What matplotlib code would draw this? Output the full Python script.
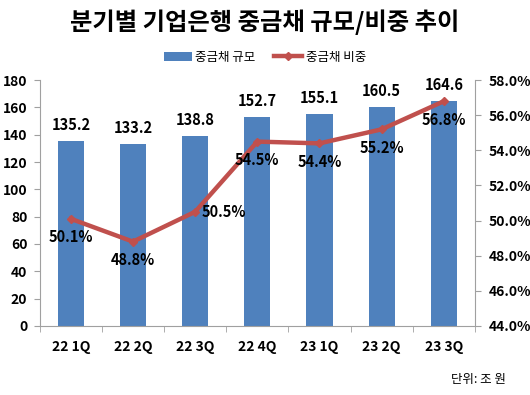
import matplotlib
matplotlib.use("Agg")
import matplotlib.pyplot as plt
from matplotlib.ticker import FuncFormatter

plt.rcParams['font.family'] = ['Noto Sans CJK KR', 'DejaVu Sans']

quarters = ["22 1Q", "22 2Q", "22 3Q", "22 4Q", "23 1Q", "23 2Q", "23 3Q"]
size = [135.2, 133.2, 138.8, 152.7, 155.1, 160.5, 164.6]
ratio = [50.1, 48.8, 50.5, 54.5, 54.4, 55.2, 56.8]

bar_c = "#4F81BD"
line_c = "#C0504D"
fs = 10

fig = plt.figure(figsize=(5.3, 3.95), dpi=100)
ax = fig.add_axes([0.075, 0.175, 0.821, 0.622])
x = list(range(len(quarters)))
ax.bar(x, size, width=0.42, color=bar_c, label="중금채 규모", zorder=2)
ax.set_xlim(-0.5, len(quarters) - 0.5)
ax.set_ylim(0, 180)
ax.set_yticks(range(0, 181, 20))
ax.set_xticks(x)
ax.set_xticklabels(quarters)
ax.set_xticks([i + 0.5 for i in range(-1, len(quarters))], minor=True)
ax.tick_params(axis="x", which="major", length=0, pad=10)
ax.tick_params(axis="x", which="minor", length=4, color="#A0A0A0")
ax.tick_params(axis="y", length=4, color="#A0A0A0", pad=5)
for lab in ax.get_xticklabels() + ax.get_yticklabels():
    lab.set_fontweight("bold")
    lab.set_fontsize(fs)
for s in ["top", "right"]:
    ax.spines[s].set_visible(False)
for s in ["left", "bottom"]:
    ax.spines[s].set_color("#A0A0A0")

for i, v in enumerate(size):
    ax.text(i, v + 6, f"{v:.1f}", ha="center", va="bottom", fontsize=fs + 0.5, fontweight="bold")

ax2 = ax.twinx()
ax2.plot(x, ratio, color=line_c, lw=3.2, marker="D", markersize=4, label="중금채 비중", zorder=3)
ax2.set_ylim(44, 58)
ax2.set_yticks(range(44, 59, 2))
ax2.yaxis.set_major_formatter(FuncFormatter(lambda v, p: f"{v:.1f}%"))
ax2.tick_params(axis="y", length=4, color="#A0A0A0", pad=6)
for lab in ax2.get_yticklabels():
    lab.set_fontweight("bold")
    lab.set_fontsize(fs)
for s in ["top", "left", "bottom"]:
    ax2.spines[s].set_visible(False)
ax2.spines["right"].set_color("#A0A0A0")

for i, v in enumerate(ratio):
    if i == 2:
        ax2.text(i + 0.1, v, f"{v:.1f}%", ha="left", va="center", fontsize=fs + 0.5, fontweight="bold")
    else:
        ax2.text(i, v - 0.6, f"{v:.1f}%", ha="center", va="top", fontsize=fs + 0.5, fontweight="bold")

h1, l1 = ax.get_legend_handles_labels()
h2, l2 = ax2.get_legend_handles_labels()
fig.legend(h1 + h2, l1 + l2, loc="center", bbox_to_anchor=(0.5, 0.855), ncol=2,
           frameon=False, fontsize=9, handlelength=2.2, columnspacing=1.5, handletextpad=0.3)

fig.text(0.5, 0.945, "분기별 기업은행 중금채 규모/비중 추이", ha="center", va="center",
         fontsize=17.5, fontweight="bold")
fig.text(0.955, 0.04, "단위: 조 원", ha="right", va="center", fontsize=9)

fig.savefig("out.png", dpi=100)
